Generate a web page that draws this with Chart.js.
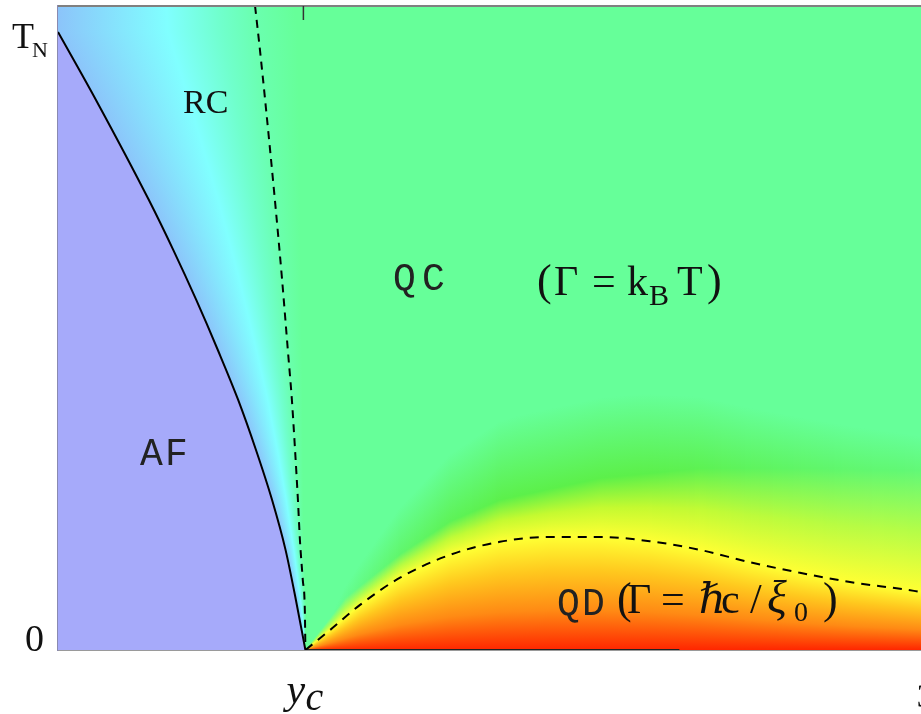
<!DOCTYPE html>
<html><head><meta charset="utf-8">
<script src="https://cdn.jsdelivr.net/npm/chart.js@4/dist/chart.umd.min.js"></script>
<style>html,body{margin:0;padding:0;background:#fff;overflow:hidden}</style>
</head><body>
<canvas id="c" width="921" height="714"></canvas>
<script>
// ---------- data ----------
const yc = 0.86;                       // critical coupling y_c
const xTickValues = [0.86, 3];
const xTickLabels = ['y', '3'];
const yTickValues = [0, 1];
const yTickLabels = ['0', 'T'];

// Neel line T_N(y) (solid)
const afX = [0, 0.132, 0.316, 0.401, 0.481, 0.556, 0.626, 0.688, 0.744, 0.791, 0.827, 0.86];
const afY = [1.0, 0.890, 0.728, 0.647, 0.566, 0.485, 0.405, 0.324, 0.243, 0.162, 0.081, 0];

// RC / QC crossover (dashed, left)
const rcX = [0.685, 0.702, 0.720, 0.754, 0.779, 0.799, 0.813, 0.824, 0.834, 0.841, 0.851, 0.858, 0.86];
const rcY = [1.042, 0.971, 0.890, 0.728, 0.599, 0.485, 0.405, 0.324, 0.243, 0.178, 0.113, 0.065, 0];

// QC / QD crossover (dashed, right)
const qdX = [0.86, 0.945, 1.050, 1.189, 1.363, 1.536, 1.710, 1.884, 2.058, 2.232, 2.405, 2.579, 2.753, 2.927, 3.0];
const qdY = [0, 0.032, 0.073, 0.117, 0.154, 0.175, 0.183, 0.183, 0.176, 0.162, 0.142, 0.125, 0.110, 0.099, 0.094];

// bright-green ridge of the colour field above QD
const bandX = [0.86, 1.0, 1.189, 1.363, 1.536, 1.884, 2.232, 2.579, 3.0];
const bandY = [0, 0.085, 0.155, 0.208, 0.243, 0.278, 0.294, 0.294, 0.291];

// T = 0 segment drawn dark
const groundX = [0.86, 2.16];
const groundY = [0, 0];

// ---------- helpers ----------
const SERIF = '"Liberation Serif","DejaVu Serif",serif';
const MONO = '"Liberation Mono","DejaVu Sans Mono",monospace';
const clamp01 = v => Math.max(0, Math.min(1, v));
function lerp(xs, ys, v) {
  if (v <= xs[0]) return ys[0];
  const n = xs.length;
  if (v >= xs[n - 1]) return ys[n - 1];
  for (let i = 1; i < n; i++) if (v <= xs[i]) {
    const t = (v - xs[i - 1]) / (xs[i] - xs[i - 1]);
    return ys[i - 1] + t * (ys[i] - ys[i - 1]);
  }
}
const afYa = afY.slice().reverse(), afXa = afX.slice().reverse();
const rcYa = rcY.slice().reverse(), rcXa = rcX.slice().reverse();
function hex(c){return [parseInt(c.slice(1,3),16),parseInt(c.slice(3,5),16),parseInt(c.slice(5,7),16)];}
function mix(a,b,t){const A=hex(a),B=hex(b);return 'rgb('+A.map((v,i)=>Math.round(v+(B[i]-v)*t)).join(',')+')';}
const pts = (xs, ys) => xs.map((v, i) => ({x: v, y: ys[i]}));

const QC = '#66ff99';

// colour field behind the lines
const fieldPlugin = {
  id: 'field',
  beforeDatasetsDraw(chart) {
    const {ctx, chartArea: a, scales: {x, y}} = chart;
    const H = a.bottom - a.top;
    const off = p => clamp01((p - a.top) / H);
    ctx.save();
    ctx.beginPath(); ctx.rect(a.left, a.top, a.right - a.left, H); ctx.clip();
    ctx.fillStyle = QC; ctx.fillRect(a.left, a.top, a.right - a.left, H);
    // QC -> QD columns
    const x0 = Math.floor(x.getPixelForValue(yc));
    for (let px = x0; px < a.right; px++) {
      const v = x.getValueForPixel(px + 0.5);
      const pq = y.getPixelForValue(lerp(qdX, qdY, v));
      const pb = y.getPixelForValue(lerp(bandX, bandY, v));
      const h = a.bottom - pq;
      const k = clamp01((h - 20) / 90);
      const g = ctx.createLinearGradient(0, a.top, 0, a.bottom);
      g.addColorStop(0, QC);
      g.addColorStop(off(pb - 80 * k - 0.5), QC);
      g.addColorStop(off(pb), mix(QC, '#5cf04a', k));
      g.addColorStop(off((pb + pq) / 2), mix('#a8ff5a', '#c4fa30', k));
      g.addColorStop(off(pq), '#ffff33');
      g.addColorStop(off(pq + 0.3 * h), '#ffc81e');
      g.addColorStop(off(pq + 0.65 * h), '#ff8a14');
      g.addColorStop(1, '#ff2600');
      ctx.fillStyle = g;
      ctx.fillRect(px, a.top, 1, H);
    }
    // RC rows
    for (let py = Math.floor(a.top); py < a.bottom; py++) {
      const v = y.getValueForPixel(py + 0.5);
      const xa = x.getPixelForValue(lerp(afYa, afXa, v));
      const xd = x.getPixelForValue(lerp(rcYa, rcXa, v));
      const w = Math.max(1, xd - xa);
      const xe = xd + 0.2 * w;
      const g = ctx.createLinearGradient(xa, 0, xe, 0);
      g.addColorStop(0, '#8cc4fa');
      g.addColorStop(0.55 / 1.2, '#80ffff');
      g.addColorStop(0.82 / 1.2, '#70ffcc');
      g.addColorStop(1 / 1.2, '#6affae');
      g.addColorStop(1, QC);
      ctx.fillStyle = g;
      ctx.fillRect(a.left, py, xe - a.left, 1);
    }
    ctx.restore();
  }
};

// region labels: [text, x, y (data units), font size, char advance px]
const regionLabels = [
  ['RC', 0.4345, 0.869, 34, 0],
  ['QC', 1.1645, 0.5825, 38, 29],
  ['AF', 0.285, 0.299, 38, 25],
  ['QD', 1.7345, 0.0566, 38, 25]
];
// formula glyphs: [text, dxPixel, dyPixel, size, italic]
const kbtAnchor = [1.665, 0.5744];
const kbtParts = [['(',0,0,44,0],['Γ',17,0,42,0],['=',55,0,42,0],['k',90,0,42,0],['B',112,10,30,0],['T',140,0,42,0],[')',170,0,44,0]];
const hcAnchor = [1.943, 0.0599];
const hcParts = [['(',0,0,44,0],['Γ',10,0,42,0],['=',44,0,42,0],['ℏ',82,0,42,1],['c',104,0,42,0],['/',133,0,42,0],['ξ',150,0,46,1],['0',177,8,28,0],[')',206,0,44,0]];

const textPlugin = {
  id: 'texts',
  afterDraw(chart) {
    const {ctx, chartArea: a, scales: {x, y}} = chart;
    ctx.save();
    ctx.fillStyle = '#111';
    ctx.textBaseline = 'alphabetic';
    ctx.textAlign = 'left';
    // top border
    ctx.strokeStyle = '#808080'; ctx.lineWidth = 2;
    ctx.beginPath(); ctx.moveTo(a.left, a.top); ctx.lineTo(a.right, a.top); ctx.stroke();
    // y_c tick at the top
    const xp = x.getPixelForValue(xTickValues[0]);
    ctx.strokeStyle = '#333'; ctx.lineWidth = 1.5;
    ctx.beginPath(); ctx.moveTo(xp - 2, a.top); ctx.lineTo(xp - 2, a.top + 14); ctx.stroke();
    // x tick labels
    ctx.font = 'italic 42px ' + SERIF;
    ctx.fillText(xTickLabels[0], xp - 19, 703);
    ctx.font = 'italic 40px ' + SERIF;
    ctx.fillText('c', xp, 710);
    ctx.font = '33px ' + SERIF;
    ctx.textAlign = 'center';
    ctx.fillText(xTickLabels[1], x.getPixelForValue(xTickValues[1]) + 4, 707);
    // y tick labels
    ctx.textAlign = 'left';
    ctx.font = '38px ' + SERIF;
    ctx.fillText(yTickLabels[0], 25, y.getPixelForValue(yTickValues[0]) + 1);
    const yT = y.getPixelForValue(yTickValues[1]);
    ctx.font = '36px ' + SERIF;
    ctx.fillText(yTickLabels[1], 12, yT + 16);
    ctx.font = '22px ' + SERIF;
    ctx.fillText('N', 32, yT + 25);
    // region labels
    for (const [t, dx, dy, s, adv] of regionLabels) {
      const bx = x.getPixelForValue(dx), by = y.getPixelForValue(dy);
      if (adv) {
        ctx.font = s + 'px ' + MONO;
        ctx.fillStyle = '#222';
        [...t].forEach((ch, i) => ctx.fillText(ch, bx + i * adv, by));
      } else {
        ctx.font = s + 'px ' + SERIF;
        ctx.fillStyle = '#111';
        ctx.fillText(t, bx, by);
      }
    }
    ctx.fillStyle = '#111';
    const drawParts = (anchor, parts) => {
      const bx = x.getPixelForValue(anchor[0]), by = y.getPixelForValue(anchor[1]);
      for (const [t, dx, dy, s, it] of parts) {
        ctx.font = (it ? 'italic ' : '') + s + 'px ' + SERIF;
        ctx.fillText(t, bx + dx, by + dy);
      }
    };
    drawParts(kbtAnchor, kbtParts);
    drawParts(hcAnchor, hcParts);
    ctx.restore();
  }
};

const lineBase = {showLine: true, pointRadius: 0, borderColor: '#000', borderWidth: 2, cubicInterpolationMode: 'monotone'};

new Chart(document.getElementById('c'), {
  type: 'scatter',
  data: {
    datasets: [
      {...lineBase, label: 'T_N', data: pts(afX, afY), fill: 'origin', backgroundColor: '#a6aafa'},
      {...lineBase, label: 'RC-QC', data: pts(rcX, rcY), borderDash: [8, 6], fill: false},
      {...lineBase, label: 'QC-QD', data: pts(qdX, qdY), borderDash: [9, 7], fill: false},
      {...lineBase, label: 'T=0', data: pts(groundX, groundY), borderColor: '#222', fill: false}
    ]
  },
  options: {
    responsive: false, animation: false, devicePixelRatio: 1,
    layout: {padding: {top: 6, right: 0, left: 0, bottom: 0}},
    plugins: {legend: {display: false}, tooltip: {enabled: false}},
    scales: {
      x: {type: 'linear', min: 0, max: 3, grid: {display: false, drawTicks: false},
          border: {display: true, color: '#9a9a9a', width: 2}, ticks: {display: false},
          afterFit(s) { s.height = 64; }},
      y: {type: 'linear', min: 0, max: 1.042, grid: {display: false, drawTicks: false},
          border: {display: true, color: '#8a8ab0', width: 1.5}, ticks: {display: false},
          afterFit(s) { s.width = 58; }}
    }
  },
  plugins: [fieldPlugin, textPlugin]
});
</script>
</body></html>
